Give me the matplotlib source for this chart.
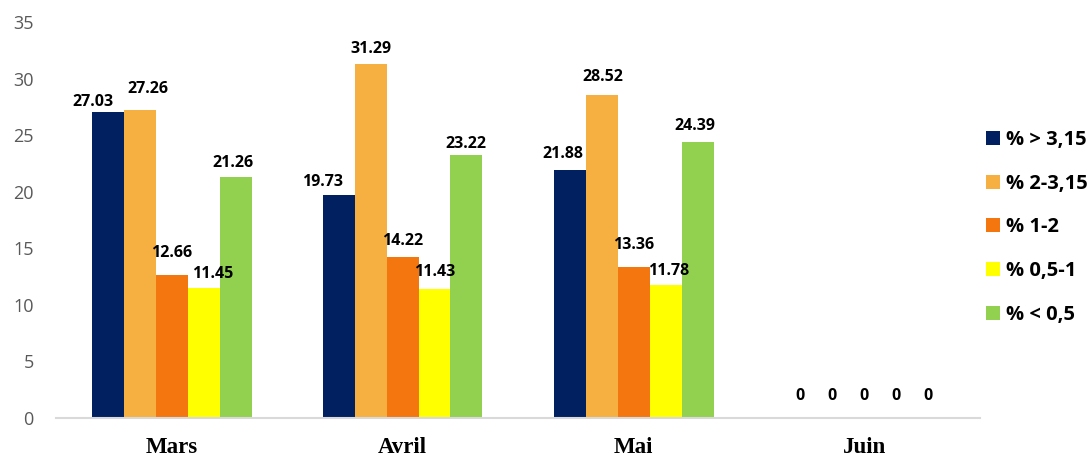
import matplotlib
matplotlib.use("Agg")
import matplotlib.pyplot as plt
import numpy as np

# Monthly shares per class
months = ["Mars", "Avril", "Mai", "Juin"]
series_names = ["% > 3,15", "% 2-3,15", "% 1-2", "% 0,5-1", "% < 0,5"]
gt_315 = [27.03, 19.73, 21.88, 0]
r2_315 = [27.26, 31.29, 28.52, 0]
r1_2 = [12.66, 14.22, 13.36, 0]
r05_1 = [11.45, 11.43, 11.78, 0]
lt_05 = [21.26, 23.22, 24.39, 0]
y_ticks = [0, 5, 10, 15, 20, 25, 30, 35]

series = [gt_315, r2_315, r1_2, r05_1, lt_05]
colors = ["#002060", "#F6B042", "#F4760F", "#FFFF00", "#92D050"]

# label nudges in pixels (dx, dy above bar top), per series then month
label_dx = [[-15, -16, -7, 0], [8, 0, 1, 0], [0, 0, 0, 0], [9, 0, 3, 0], [-3, -1, -3, 0]]
label_dy = [[10, 13, 16, 22], [21, 15, 18, 22], [22, 16, 22, 22], [14, 17, 14, 22], [14, 11, 16, 22]]

W, H, DPI = 1092, 459, 100
fig = plt.figure(figsize=(W / DPI, H / DPI), dpi=DPI)
ax = fig.add_axes([56 / W, 1 - 418 / H, (980 - 56) / W, (418 - 22) / H])

x = np.arange(len(months))
bw = 32 / 231
n = len(series)
for i, (vals, col) in enumerate(zip(series, colors)):
    pos = x + (i - (n - 1) / 2) * bw
    bars = ax.bar(pos, vals, width=bw, color=col, label=series_names[i], linewidth=0)
    for j, (b, v) in enumerate(zip(bars, vals)):
        lbl = f"{v:.2f}" if v != 0 else "0"
        ax.annotate(lbl, (b.get_x() + b.get_width() / 2, v),
                    xytext=(label_dx[i][j], label_dy[i][j]), textcoords="offset pixels",
                    ha="center", va="center", fontsize=11.5, fontweight="bold",
                    family="Open Sans", color="black")

ax.set_xlim(-0.5, len(months) - 0.5)
ax.set_ylim(0, 35)
ax.set_yticks(y_ticks)
ax.set_xticks(x)
ax.set_xticklabels(months, family="Liberation Serif", fontweight="bold", fontsize=16.5, color="black")
for t in ax.get_yticklabels():
    t.set_family("Open Sans")
    t.set_fontsize(13)
    t.set_color("#595959")
ax.tick_params(axis="y", length=0, pad=16)
ax.tick_params(axis="x", length=0, pad=14)

for s in ["top", "right", "left"]:
    ax.spines[s].set_visible(False)
ax.spines["bottom"].set_color("#D9D9D9")
ax.spines["bottom"].set_linewidth(1.5)

leg = fig.legend(loc="center left", bbox_to_anchor=(986 / W, 1 - 227.5 / H),
                 frameon=False, borderpad=0, borderaxespad=0,
                 handlelength=0.7, handleheight=0.7, handletextpad=0.3,
                 labelspacing=1.18, prop={"family": "Open Sans", "weight": "bold", "size": 14.5})

fig.savefig("out.png", dpi=DPI)
